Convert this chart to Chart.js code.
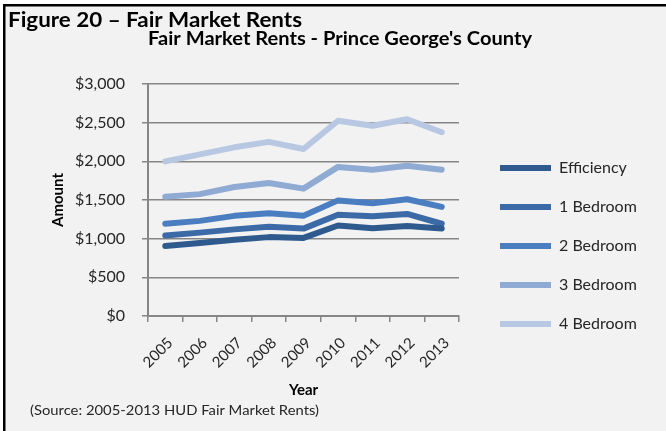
<!DOCTYPE html>
<html>
<head>
<meta charset="utf-8">
<script src="https://cdn.jsdelivr.net/npm/chart.js@4"></script>
<style>
  html, body { margin: 0; padding: 0; background: #ffffff; }
  #wrap { width: 666px; height: 431px; }
</style>
</head>
<body>
<div id="wrap"><canvas id="c" width="666" height="431"></canvas></div>
<script>
const figureTitle = "Figure 20 \u2013 Fair Market Rents";
const chartTitle = "Fair Market Rents - Prince George's County";
const sourceNote = "(Source: 2005-2013 HUD Fair Market Rents)";
const years = ["2005", "2006", "2007", "2008", "2009", "2010", "2011", "2012", "2013"];
const efficiency = [905, 945, 985, 1020, 1010, 1170, 1135, 1165, 1130];
const bedroom1 = [1040, 1078, 1120, 1155, 1130, 1310, 1290, 1320, 1193];
const bedroom2 = [1193, 1230, 1295, 1328, 1295, 1495, 1457, 1510, 1411];
const bedroom3 = [1543, 1576, 1668, 1720, 1647, 1928, 1891, 1943, 1891];
const bedroom4 = [1999, 2090, 2181, 2252, 2160, 2525, 2460, 2545, 2376];
const seriesNames = ["Efficiency", "1 Bedroom", "2 Bedroom", "3 Bedroom", "4 Bedroom"];
const yTicks = [0, 500, 1000, 1500, 2000, 2500, 3000];

const colors = ["#2f5a8e", "#3b6aa6", "#4a7ec0", "#8faad3", "#b8c8e3"];
const seriesData = [efficiency, bedroom1, bedroom2, bedroom3, bedroom4];
const FONT = "Lato, 'Open Sans', sans-serif";
const TXT = "#262626";

function fitText(ctx, text, x, y, width, align) {
  const w = ctx.measureText(text).width;
  const k = width / w;
  ctx.save();
  let x0 = x;
  if (align === 'center') x0 = x - width / 2;
  ctx.translate(x0, y);
  ctx.scale(k, 1);
  ctx.textAlign = 'left';
  ctx.fillText(text, 0, 0);
  ctx.restore();
}

const frame = {
  id: 'frame',
  beforeDraw(chart) {
    const ctx = chart.ctx;
    ctx.save();
    ctx.fillStyle = '#ffffff';
    ctx.fillRect(0, 0, 666, 431);
    ctx.fillStyle = '#f2f2f2';
    ctx.fillRect(5, 6, 661, 425);
    ctx.fillStyle = '#000000';
    ctx.fillRect(3, 4, 663, 2.5);
    ctx.fillRect(3, 4, 2.5, 427);
    ctx.restore();
  },
  afterLayout(chart) {
    const lg = chart.legend;
    if (lg) {
      lg.left = 477; lg.right = 666; lg.width = 189;
      lg.top = 137; lg.bottom = 431; lg.height = 294;
    }
  },
  afterDraw(chart) {
    const ctx = chart.ctx;
    ctx.save();
    ctx.fillStyle = '#000000';
    ctx.textBaseline = 'middle';
    ctx.font = "bold 20px " + FONT;
    fitText(ctx, figureTitle, 8, 21, 294, 'left');
    ctx.font = "bold 18px " + FONT;
    fitText(ctx, chartTitle, 340, 39, 384, 'center');
    ctx.fillStyle = TXT;
    ctx.font = "14px " + FONT;
    fitText(ctx, sourceNote, 30, 410, 289, 'left');
    ctx.restore();
  }
};

new Chart(document.getElementById('c'), {
  type: 'line',
  data: {
    labels: years,
    datasets: seriesNames.map((name, i) => ({
      label: name,
      data: seriesData[i],
      borderColor: colors[i],
      backgroundColor: colors[i],
      borderWidth: 6,
      borderCapStyle: 'round',
      borderJoinStyle: 'round',
      pointRadius: 0,
      pointHoverRadius: 0,
      tension: 0,
      fill: false
    }))
  },
  options: {
    responsive: false,
    animation: false,
    devicePixelRatio: 1,
    layout: { padding: { left: 44, right: 207, top: 84, bottom: 30 } },
    plugins: {
      title: { display: false },
      tooltip: { enabled: false },
      legend: {
        display: true,
        position: 'chartArea',
        align: 'start',
        labels: {
          usePointStyle: true,
          pointStyle: 'line',
          pointStyleWidth: 51,
          padding: 23,
          color: TXT,
          font: { family: FONT, size: 16 }
        }
      }
    },
    scales: {
      x: {
        offset: true,
        grid: {
          display: true,
          offset: true,
          drawOnChartArea: false,
          drawTicks: true,
          tickLength: 6,
          color: '#868686',
          lineWidth: 1.5
        },
        border: { display: true, color: '#868686', width: 2 },
        ticks: {
          minRotation: 45,
          maxRotation: 45,
          autoSkip: false,
          padding: 12,
          labelOffset: 5,
          color: TXT,
          font: { family: FONT, size: 15 }
        },
        title: {
          display: true,
          text: 'Year',
          color: '#000000',
          font: { family: FONT, size: 15, weight: 'bold' },
          padding: { top: 0, bottom: 2 }
        },
        afterFit(scale) { scale.height = 85; }
      },
      y: {
        min: 0,
        max: 3000,
        afterBuildTicks(scale) { scale.ticks = yTicks.map(v => ({ value: v })); },
        grid: {
          display: true,
          drawTicks: true,
          tickLength: 6,
          color: '#868686',
          lineWidth: 1.5
        },
        border: { display: true, color: '#868686', width: 2 },
        ticks: {
          padding: 17,
          color: TXT,
          font: { family: FONT, size: 16 },
          callback: (v) => '$' + Number(v).toLocaleString('en-US')
        },
        title: {
          display: true,
          text: 'Amount',
          color: '#000000',
          font: { family: FONT, size: 15, weight: 'bold' },
          padding: { top: 5, bottom: 0 }
        },
        afterFit(scale) { scale.width = 104; }
      }
    }
  },
  plugins: [frame]
});
</script>
</body>
</html>
